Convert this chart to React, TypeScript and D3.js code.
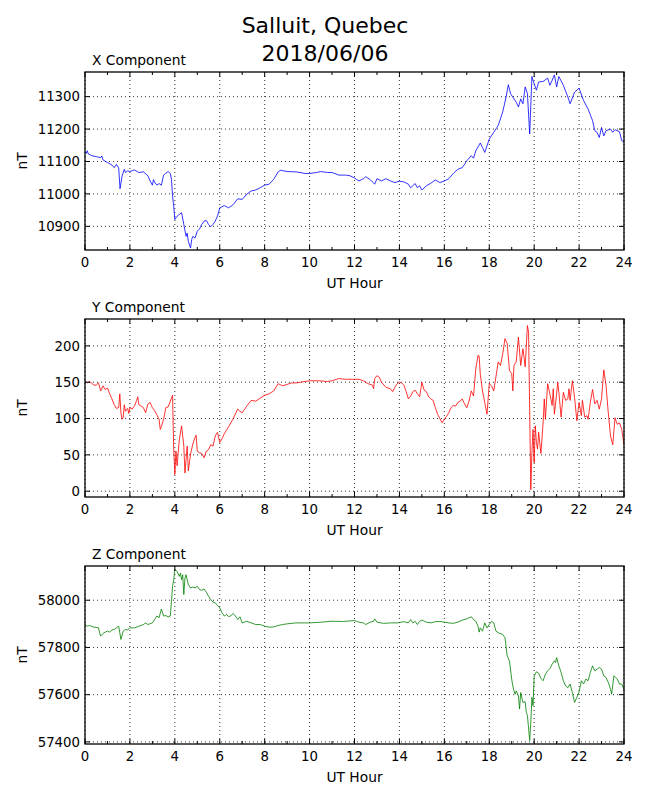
import React from "react";
import * as d3 from "d3";

// ---------- data ----------
const hourTicks = [0, 2, 4, 6, 8, 10, 12, 14, 16, 18, 20, 22, 24];
const hourMinorTicks = [1, 3, 5, 7, 9, 11, 13, 15, 17, 19, 21, 23];

const xTicks = [10900, 11000, 11100, 11200, 11300];
const yTicks = [0, 50, 100, 150, 200];
const zTicks = [57400, 57600, 57800, 58000];

const xRange = [10827, 11376];
const yRange = [-8, 237];
const zRange = [57391, 58145];

const xSeries: [number, number][] = [
  [0, 11131], [0.05, 11125], [0.1, 11133], [0.15, 11123], [0.3, 11118], [0.5, 11115], [0.7, 11112], [0.75, 11117],
  [0.8, 11105], [1.0, 11097], [1.2, 11089], [1.3, 11081], [1.4, 11091], [1.5, 11080], [1.56, 11016], [1.65, 11055],
  [1.75, 11076], [1.8, 11066], [1.9, 11071], [2.0, 11069], [2.2, 11074], [2.4, 11066], [2.6, 11068], [2.8, 11056],
  [2.9, 11040], [3.0, 11027], [3.05, 11044], [3.1, 11036], [3.2, 11027], [3.3, 11032], [3.4, 11027], [3.5, 11058],
  [3.6, 11064], [3.7, 11069], [3.8, 11063], [3.85, 11045], [3.9, 10993], [3.95, 10962], [4.0, 10921], [4.1, 10931],
  [4.2, 10937], [4.3, 10942], [4.4, 10906], [4.5, 10869], [4.55, 10879], [4.6, 10854], [4.7, 10833], [4.75, 10859],
  [4.8, 10869], [4.9, 10864], [5.0, 10885], [5.1, 10892], [5.2, 10906], [5.3, 10916], [5.4, 10918], [5.5, 10906],
  [5.6, 10899], [5.7, 10906], [5.8, 10916], [5.9, 10932], [6.0, 10957], [6.2, 10964], [6.4, 10957], [6.5, 10962],
  [6.6, 10967], [6.8, 10985], [7.0, 10983], [7.2, 10999], [7.4, 11009], [7.6, 11012], [7.8, 11019], [8.0, 11027],
  [8.2, 11030], [8.4, 11045], [8.6, 11068], [8.7, 11073], [9.0, 11069], [9.4, 11068], [9.8, 11063], [10, 11063],
  [10.3, 11066], [10.5, 11069], [10.8, 11066], [11.0, 11066], [11.3, 11058], [11.6, 11058], [11.8, 11056], [12, 11049],
  [12.2, 11040], [12.4, 11047], [12.5, 11053], [12.7, 11044], [12.9, 11030], [13.0, 11047], [13.2, 11040], [13.4, 11047],
  [13.6, 11040], [13.8, 11035], [14.0, 11039], [14.2, 11037], [14.4, 11030], [14.5, 11019], [14.7, 11032], [14.8, 11019],
  [14.9, 11025], [15.0, 11012], [15.2, 11025], [15.4, 11033], [15.6, 11043], [15.8, 11035], [16.0, 11040], [16.2, 11047],
  [16.4, 11063], [16.6, 11076], [16.8, 11081], [17.0, 11102], [17.2, 11118], [17.3, 11110], [17.4, 11133], [17.6, 11157],
  [17.7, 11143], [17.8, 11128], [18.0, 11169], [18.2, 11190], [18.4, 11211], [18.6, 11253], [18.75, 11299], [18.85, 11337],
  [18.95, 11309], [19.1, 11293], [19.2, 11283], [19.3, 11268], [19.4, 11293], [19.5, 11278], [19.6, 11330], [19.7, 11309],
  [19.8, 11185], [19.85, 11273], [19.9, 11362], [20.0, 11340], [20.1, 11320], [20.2, 11345], [20.4, 11347], [20.6, 11357],
  [20.7, 11335], [20.8, 11350], [20.9, 11367], [21.0, 11330], [21.1, 11362], [21.3, 11335], [21.5, 11299], [21.6, 11278],
  [21.8, 11314], [22.0, 11326], [22.2, 11288], [22.4, 11262], [22.6, 11226], [22.7, 11195], [22.8, 11190], [22.9, 11174],
  [23.0, 11205], [23.1, 11179], [23.2, 11195], [23.4, 11200], [23.5, 11190], [23.6, 11198], [23.8, 11192], [23.9, 11164],
  [24, 11160],
];

const ySeries: [number, number][] = [
  [0, 152], [0.1, 149], [0.2, 151], [0.4, 146], [0.5, 146], [0.6, 149], [0.7, 138], [0.8, 145], [0.9, 140], [1.0, 142],
  [1.1, 134], [1.2, 127], [1.3, 119], [1.4, 114], [1.5, 115], [1.55, 134], [1.6, 108], [1.65, 99], [1.7, 101], [1.75, 119],
  [1.8, 110], [1.9, 114], [1.95, 107], [2.0, 115], [2.1, 113], [2.2, 117], [2.3, 125], [2.35, 130], [2.4, 119], [2.5, 117],
  [2.6, 115], [2.7, 108], [2.8, 120], [2.9, 122], [3.0, 115], [3.1, 111], [3.2, 105], [3.3, 99], [3.35, 85], [3.4, 89],
  [3.5, 99], [3.6, 115], [3.7, 116], [3.8, 124], [3.9, 132], [3.92, 99], [3.95, 58], [4.0, 23], [4.05, 55], [4.1, 35],
  [4.2, 71], [4.3, 90], [4.4, 62], [4.45, 25], [4.5, 44], [4.55, 62], [4.6, 28], [4.7, 51], [4.8, 65], [4.9, 74],
  [4.95, 77], [5.0, 55], [5.1, 53], [5.2, 52], [5.3, 46], [5.4, 55], [5.5, 57], [5.6, 64], [5.7, 62], [5.8, 76],
  [5.9, 81], [6.0, 67], [6.1, 72], [6.2, 79], [6.4, 89], [6.6, 100], [6.8, 113], [6.9, 110], [7.0, 108], [7.2, 117],
  [7.4, 125], [7.6, 124], [7.8, 128], [8.0, 132], [8.2, 134], [8.4, 138], [8.6, 148], [8.8, 145], [9.0, 147], [9.2, 149],
  [9.4, 149], [9.6, 150], [9.8, 151], [10, 152], [10.4, 152], [10.8, 151], [11.0, 152], [11.3, 155], [11.6, 154], [12, 154],
  [12.2, 154], [12.4, 152], [12.6, 148], [12.8, 146], [12.85, 141], [12.9, 155], [13.0, 159], [13.1, 157], [13.2, 150],
  [13.4, 143], [13.6, 141], [13.7, 137], [13.8, 143], [13.9, 148], [14.0, 150], [14.1, 149], [14.2, 146], [14.3, 137],
  [14.4, 127], [14.5, 131], [14.6, 137], [14.7, 139], [14.8, 134], [14.9, 130], [15.0, 150], [15.1, 139], [15.2, 137],
  [15.3, 130], [15.4, 127], [15.5, 125], [15.6, 115], [15.7, 106], [15.8, 100], [15.9, 94], [16.0, 99], [16.1, 103],
  [16.2, 108], [16.3, 115], [16.4, 118], [16.5, 117], [16.6, 122], [16.7, 124], [16.8, 127], [16.9, 120], [17.0, 115],
  [17.1, 124], [17.2, 138], [17.3, 131], [17.4, 168], [17.5, 187], [17.55, 186], [17.6, 161], [17.7, 138], [17.8, 122],
  [17.9, 106], [18.0, 148], [18.1, 145], [18.2, 138], [18.4, 178], [18.5, 173], [18.6, 189], [18.7, 210], [18.8, 203],
  [18.9, 166], [19.0, 162], [19.05, 138], [19.1, 173], [19.2, 178], [19.3, 212], [19.4, 173], [19.5, 196], [19.6, 171],
  [19.7, 228], [19.75, 219], [19.8, 111], [19.85, 2], [19.9, 53], [19.95, 85], [20.0, 39], [20.05, 90], [20.1, 67],
  [20.15, 58], [20.2, 81], [20.3, 52], [20.4, 95], [20.45, 127], [20.5, 99], [20.6, 148], [20.7, 134], [20.8, 118],
  [20.85, 141], [20.9, 106], [21.0, 134], [21.05, 150], [21.1, 136], [21.2, 102], [21.3, 136], [21.4, 125], [21.5, 127],
  [21.55, 141], [21.6, 125], [21.7, 152], [21.8, 129], [21.9, 97], [22.0, 122], [22.1, 104], [22.15, 125], [22.25, 102],
  [22.35, 104], [22.4, 99], [22.5, 122], [22.6, 140], [22.7, 120], [22.8, 125], [22.9, 113], [23.0, 127], [23.1, 167],
  [23.2, 145], [23.3, 108], [23.4, 76], [23.5, 64], [23.6, 101], [23.7, 92], [23.8, 94], [23.9, 85], [24, 64],
];

const zSeries: [number, number][] = [
  [0, 57897], [0.1, 57890], [0.2, 57893], [0.4, 57886], [0.6, 57883], [0.65, 57862], [0.7, 57848], [0.8, 57859],
  [0.9, 57865], [1.0, 57869], [1.1, 57865], [1.2, 57874], [1.3, 57876], [1.4, 57883], [1.5, 57890], [1.55, 57862],
  [1.6, 57834], [1.7, 57869], [1.8, 57876], [1.9, 57874], [2.0, 57883], [2.2, 57883], [2.4, 57890], [2.6, 57897],
  [2.7, 57904], [2.8, 57897], [3.0, 57904], [3.2, 57933], [3.3, 57926], [3.4, 57963], [3.5, 57933], [3.6, 57935],
  [3.7, 57930], [3.8, 57933], [3.9, 58059], [3.95, 58087], [4.0, 58132], [4.1, 58122], [4.2, 58101], [4.25, 58115],
  [4.3, 58087], [4.35, 58108], [4.4, 58024], [4.45, 58094], [4.5, 58108], [4.6, 58066], [4.7, 58052], [4.8, 58056],
  [4.9, 58052], [5.0, 58059], [5.1, 58045], [5.2, 58042], [5.3, 58048], [5.4, 58034], [5.5, 58017], [5.6, 58003],
  [5.7, 57992], [5.8, 57989], [5.9, 57978], [6.0, 57968], [6.1, 57947], [6.2, 57933], [6.3, 57940], [6.4, 57930],
  [6.5, 57935], [6.6, 57944], [6.7, 57933], [6.8, 57918], [6.9, 57930], [7.0, 57904], [7.2, 57911], [7.4, 57904],
  [7.6, 57897], [7.8, 57897], [8.0, 57890], [8.2, 57886], [8.4, 57887], [8.6, 57893], [8.8, 57897], [9.0, 57900],
  [9.4, 57904], [10, 57904], [10.5, 57907], [11, 57911], [11.5, 57910], [12, 57914],
  [12.2, 57907], [12.4, 57904], [12.5, 57897], [12.7, 57907], [12.85, 57911], [12.9, 57921], [13.0, 57907], [13.3, 57902],
  [13.6, 57904], [13.9, 57904], [14.2, 57909], [14.4, 57904], [14.5, 57918], [14.6, 57904], [14.7, 57911], [14.8, 57897],
  [14.9, 57911], [15.0, 57916], [15.2, 57907], [15.4, 57904], [15.6, 57909], [15.8, 57910], [16.0, 57907], [16.2, 57904],
  [16.4, 57902], [16.6, 57907], [16.8, 57916], [17.0, 57921], [17.2, 57930], [17.3, 57918], [17.4, 57911], [17.5, 57890],
  [17.55, 57865], [17.6, 57883], [17.7, 57869], [17.8, 57904], [17.9, 57883], [18.0, 57897], [18.1, 57911], [18.2, 57904],
  [18.3, 57869], [18.4, 57862], [18.6, 57855], [18.7, 57841], [18.8, 57764], [18.9, 57743], [19.0, 57666], [19.05, 57637],
  [19.1, 57616], [19.15, 57602], [19.2, 57616], [19.3, 57595], [19.35, 57539], [19.4, 57609], [19.5, 57567], [19.6, 57570],
  [19.65, 57525], [19.7, 57511], [19.8, 57406], [19.85, 57483], [19.9, 57588], [19.95, 57553], [20.0, 57680], [20.1, 57697],
  [20.2, 57691], [20.3, 57668], [20.4, 57659], [20.5, 57687], [20.6, 57701], [20.7, 57711], [20.8, 57729], [20.9, 57743],
  [20.95, 57736], [21.0, 57757], [21.1, 57722], [21.2, 57694], [21.3, 57659], [21.4, 57637], [21.5, 57630], [21.6, 57645],
  [21.7, 57609], [21.8, 57567], [21.9, 57588], [22.0, 57612], [22.1, 57659], [22.2, 57645], [22.3, 57666], [22.4, 57659],
  [22.5, 57694], [22.6, 57722], [22.7, 57701], [22.8, 57708], [22.9, 57715], [23.0, 57708], [23.1, 57680], [23.2, 57673],
  [23.3, 57652], [23.4, 57623], [23.45, 57602], [23.55, 57680], [23.7, 57666], [23.8, 57645], [23.9, 57645], [24, 57621],
];

// ---------- layout ----------
const W = 650;
const H = 800;
const LEFT = 85;
const RIGHT = 624;
const PANEL_H = 178;
const FONT = "'DejaVu Sans', Verdana, sans-serif";
const TICK_FS = 13.3;
const LABEL_FS = 13.8;

type PanelProps = {
  id: string;
  top: number;
  title: string;
  data: [number, number][];
  domain: number[];
  ticks: number[];
  color: string;
};

function Panel({ id, top, title, data, domain, ticks, color }: PanelProps) {
  const bottom = top + PANEL_H;
  const x = d3.scaleLinear().domain([0, 24]).range([LEFT, RIGHT]);
  const y = d3.scaleLinear().domain(domain).range([bottom, top]);
  const line = d3
    .line<[number, number]>()
    .x((d) => x(d[0]))
    .y((d) => y(d[1]));
  const clipId = `clip-${id}`;
  return (
    <g>
      <defs>
        <clipPath id={clipId}>
          <rect x={LEFT} y={top} width={RIGHT - LEFT} height={PANEL_H} />
        </clipPath>
      </defs>
      {/* grid */}
      {hourTicks.map((h) => (
        <line key={`gx${h}`} x1={x(h)} x2={x(h)} y1={top} y2={bottom}
          stroke="#000" strokeWidth={0.8} strokeDasharray="1,3" />
      ))}
      {ticks.map((t) => (
        <line key={`gy${t}`} x1={LEFT} x2={RIGHT} y1={y(t)} y2={y(t)}
          stroke="#000" strokeWidth={0.8} strokeDasharray="1,3" />
      ))}
      {/* data */}
      <path d={line(data) || ""} fill="none" stroke={color} strokeWidth={0.8}
        strokeLinejoin="round" clipPath={`url(#${clipId})`} />
      {/* ticks (inward) */}
      {hourTicks.map((h) => (
        <g key={`tx${h}`}>
          <line x1={x(h)} x2={x(h)} y1={bottom} y2={bottom - 5} stroke="#000" strokeWidth={1} />
          <line x1={x(h)} x2={x(h)} y1={top} y2={top + 5} stroke="#000" strokeWidth={1} />
          <text x={x(h)} y={bottom + 17} textAnchor="middle" fontSize={TICK_FS} fontFamily={FONT}>
            {h}
          </text>
        </g>
      ))}
      {hourMinorTicks.map((h) => (
        <g key={`mx${h}`}>
          <line x1={x(h)} x2={x(h)} y1={bottom} y2={bottom - 3} stroke="#000" strokeWidth={1} />
          <line x1={x(h)} x2={x(h)} y1={top} y2={top + 3} stroke="#000" strokeWidth={1} />
        </g>
      ))}
      {ticks.map((t) => (
        <g key={`ty${t}`}>
          <line x1={LEFT} x2={LEFT + 5} y1={y(t)} y2={y(t)} stroke="#000" strokeWidth={1} />
          <line x1={RIGHT} x2={RIGHT - 5} y1={y(t)} y2={y(t)} stroke="#000" strokeWidth={1} />
          <text x={LEFT - 5} y={y(t)} dy="0.36em" textAnchor="end" fontSize={TICK_FS} fontFamily={FONT}>
            {t}
          </text>
        </g>
      ))}
      {/* frame */}
      <rect x={LEFT} y={top} width={RIGHT - LEFT} height={PANEL_H} fill="none" stroke="#000" strokeWidth={1.3} />
      {/* labels */}
      <text x={92} y={top - 7} fontSize={LABEL_FS} fontFamily={FONT}>{title}</text>
      <text x={(LEFT + RIGHT) / 2} y={bottom + 38} textAnchor="middle" fontSize={LABEL_FS} fontFamily={FONT}>
        UT Hour
      </text>
      <text transform={`translate(27, ${(top + bottom) / 2}) rotate(-90)`} textAnchor="middle"
        fontSize={LABEL_FS} fontFamily={FONT}>
        nT
      </text>
    </g>
  );
}

export default function App() {
  return (
    <svg width={W} height={H} viewBox={`0 0 ${W} ${H}`}
      style={{ position: "absolute", left: 0, top: 0, background: "#fff" }}>
      <rect x={0} y={0} width={W} height={H} fill="#fff" />
      <text x={W / 2} y={33} textAnchor="middle" fontSize={22} fontFamily={FONT}>Salluit, Quebec</text>
      <text x={W / 2} y={61} textAnchor="middle" fontSize={22} fontFamily={FONT}>2018/06/06</text>
      <Panel id="x" top={72} title="X Component" data={xSeries} domain={xRange} ticks={xTicks} color="#0000ff" />
      <Panel id="y" top={319} title="Y Component" data={ySeries} domain={yRange} ticks={yTicks} color="#ff0000" />
      <Panel id="z" top={566} title="Z Component" data={zSeries} domain={zRange} ticks={zTicks} color="#008000" />
    </svg>
  );
}
